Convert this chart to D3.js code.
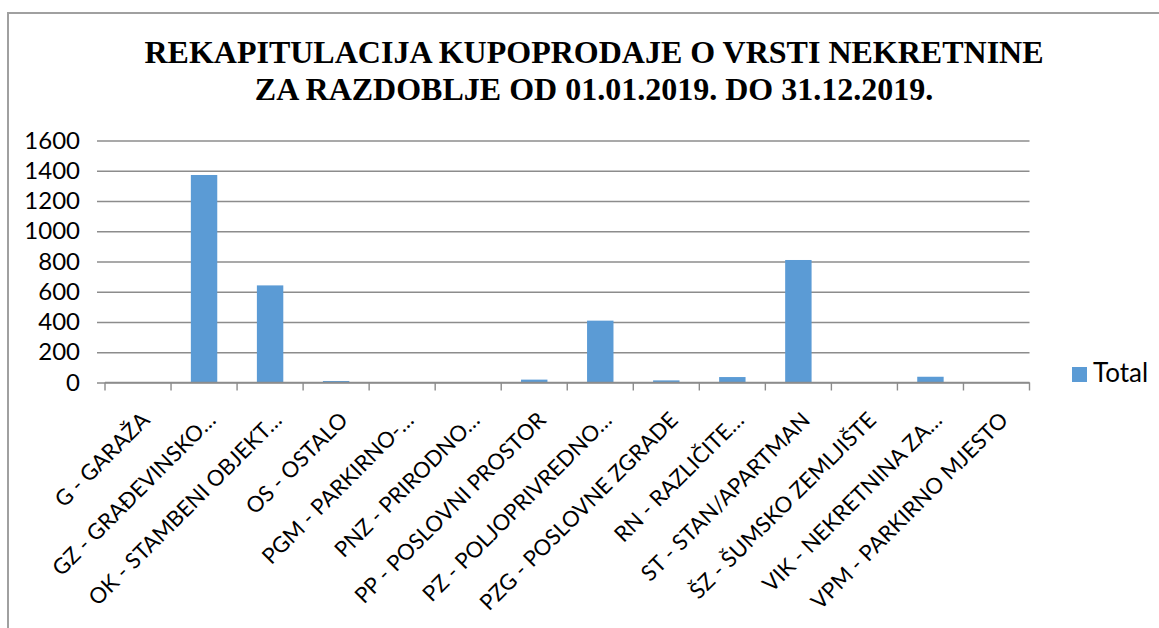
<!DOCTYPE html>
<html>
<head>
<meta charset="utf-8">
<script src="https://cdn.jsdelivr.net/npm/d3@7"></script>
<style>
  html, body { margin: 0; padding: 0; background: #fff; }
  svg { display: block; }
</style>
</head>
<body>
<script>
const titleLines = [
  "REKAPITULACIJA KUPOPRODAJE O VRSTI NEKRETNINE",
  "ZA RAZDOBLJE OD 01.01.2019. DO 31.12.2019."
];
const categories = [
  "G - GARAŽA",
  "GZ - GRAĐEVINSKO…",
  "OK - STAMBENI OBJEKT…",
  "OS - OSTALO",
  "PGM - PARKIRNO-…",
  "PNZ - PRIRODNO…",
  "PP - POSLOVNI PROSTOR",
  "PZ - POLJOPRIVREDNO…",
  "PZG - POSLOVNE ZGRADE",
  "RN - RAZLIČITE…",
  "ST - STAN/APARTMAN",
  "ŠZ - ŠUMSKO ZEMLJIŠTE",
  "VIK - NEKRETNINA ZA…",
  "VPM - PARKIRNO MJESTO"
];
const values = [2, 1372, 642, 10, 2, 2, 19, 409, 14, 36, 810, 1, 38, 1];
const yTicks = [0, 200, 400, 600, 800, 1000, 1200, 1400, 1600];
const seriesName = "Total";

(function () {
const W = 1159, H = 628;
const svg = d3.select("body").append("svg").attr("width", W).attr("height", H);

svg.append("rect")
  .attr("x", 8).attr("y", 13).attr("width", 1300).attr("height", 800)
  .attr("fill", "#fff").attr("stroke", "#a0a0a0").attr("stroke-width", 2);

const title = svg.append("g")
  .attr("font-family", "'Liberation Serif', 'Times New Roman', serif")
  .attr("font-weight", "bold").attr("font-size", 32).attr("fill", "#000")
  .attr("text-anchor", "middle");
title.selectAll("text").data(titleLines).join("text")
  .attr("x", 594).attr("y", (d, i) => 63 + i * 37)
  .text(d => d);

const pL = 105, pR = 1029.5, pT = 140.5, pB = 382.5;

const x = d3.scaleBand().domain(categories).range([pL, pR]).paddingInner(0.6).paddingOuter(0.3);
const xb = d3.scaleBand().domain(categories).range([pL, pR]);
const y = d3.scaleLinear().domain([0, 1600]).range([pB, pT]);

const fontSans = "Lato, 'Open Sans', sans-serif";

const gy = svg.append("g").attr("transform", `translate(${pR},0)`)
  .call(d3.axisLeft(y).tickValues(yTicks).tickSize(pR - pL + 8).tickFormat(""));
gy.select(".domain").remove();
gy.selectAll(".tick line").attr("stroke", "#8c8c8c").attr("stroke-width", 1.4);

const yl = svg.append("g").attr("transform", `translate(${pL},0)`)
  .call(d3.axisLeft(y).tickValues(yTicks).tickSize(0).tickPadding(25).tickFormat(d3.format("d")));
yl.select(".domain").remove();
yl.selectAll("text").attr("font-family", fontSans).attr("font-size", 24).attr("fill", "#000");

svg.append("g").selectAll("rect").data(values).join("rect")
  .attr("x", (d, i) => x(categories[i]))
  .attr("width", x.bandwidth())
  .attr("y", d => y(d))
  .attr("height", d => pB - y(d))
  .attr("fill", "#5b9bd5");

const bounds = categories.map(c => xb(c)).concat([pR]);
svg.append("g").selectAll("line").data(bounds).join("line")
  .attr("x1", d => d).attr("x2", d => d)
  .attr("y1", pB).attr("y2", pB + 8)
  .attr("stroke", "#8c8c8c").attr("stroke-width", 1.4);
svg.append("line").attr("x1", pL).attr("x2", pR).attr("y1", pB).attr("y2", pB)
  .attr("stroke", "#8c8c8c").attr("stroke-width", 1.4);

svg.append("g").selectAll("text").data(categories).join("text")
  .attr("transform", d => `translate(${xb(d) + xb.bandwidth() / 2 + 13},${pB + 39}) rotate(-45)`)
  .attr("text-anchor", "end")
  .attr("font-family", fontSans).attr("font-size", 22).attr("fill", "#000")
  .text(d => d);

const lg = svg.append("g");
lg.append("rect").attr("x", 1072).attr("y", 367).attr("width", 15).attr("height", 15).attr("fill", "#5b9bd5");
lg.append("text").attr("x", 1093).attr("y", 382)
  .attr("font-family", fontSans).attr("font-size", 26).attr("fill", "#000")
  .text(seriesName);
})();
</script>
</body>
</html>
